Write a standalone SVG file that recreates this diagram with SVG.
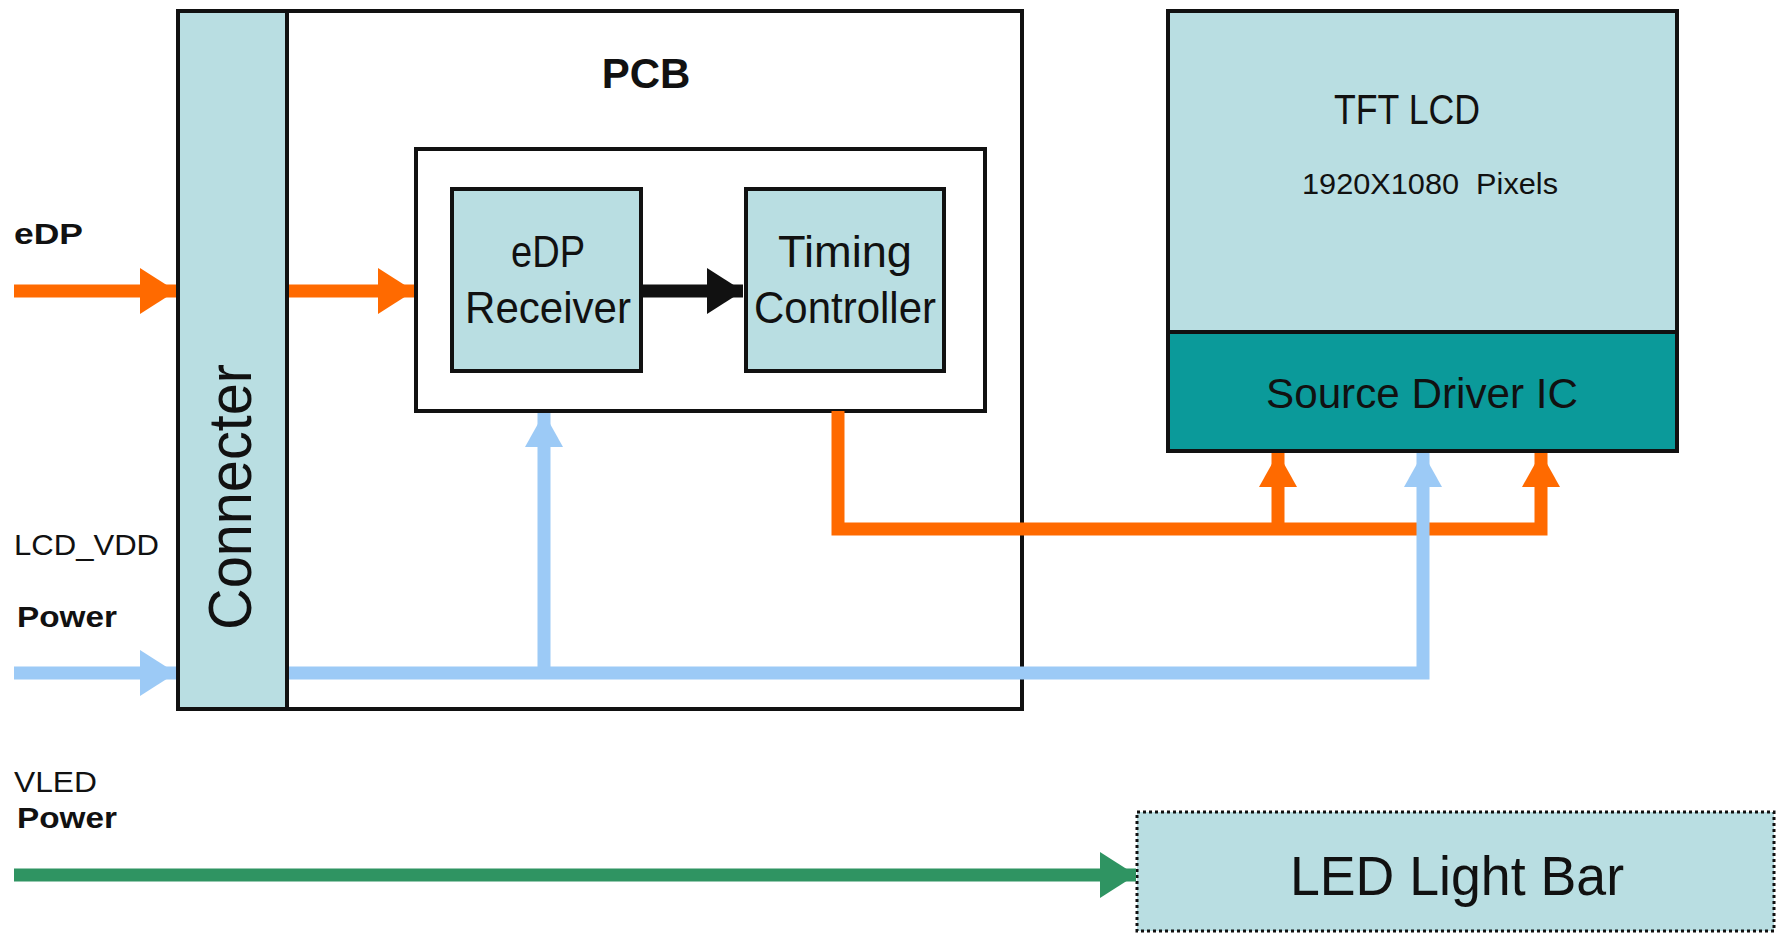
<svg xmlns="http://www.w3.org/2000/svg" width="1777" height="937" viewBox="0 0 1777 937">
<style>
text{font-family:"Liberation Sans",Arial,sans-serif;fill:#111}
.box{fill:#b9dee2;stroke:#111;stroke-width:4}
.frame{fill:#fff;stroke:#111;stroke-width:4}
.b{font-weight:bold}
.or{stroke:#ff6a00;stroke-width:13;fill:none}
.bl{stroke:#9ccaf6;stroke-width:13;fill:none}
.gr{stroke:#2f9462;stroke-width:13;fill:none}
.bk{stroke:#111;stroke-width:13;fill:none}
</style>
<defs>
<marker id="ho" markerUnits="userSpaceOnUse" markerWidth="40" markerHeight="50" refX="36" refY="23" orient="auto"><path d="M0,0 L36,23 L0,46 Z" fill="#ff6a00"/></marker>
<marker id="hb" markerUnits="userSpaceOnUse" markerWidth="40" markerHeight="50" refX="36" refY="23" orient="auto"><path d="M0,0 L36,23 L0,46 Z" fill="#9ccaf6"/></marker>
<marker id="hg" markerUnits="userSpaceOnUse" markerWidth="40" markerHeight="50" refX="36" refY="23" orient="auto"><path d="M0,0 L36,23 L0,46 Z" fill="#2f9462"/></marker>
<marker id="hk" markerUnits="userSpaceOnUse" markerWidth="40" markerHeight="50" refX="36" refY="23" orient="auto"><path d="M0,0 L36,23 L0,46 Z" fill="#111"/></marker>
<marker id="hos" markerUnits="userSpaceOnUse" markerWidth="40" markerHeight="40" refX="34" refY="19" orient="auto"><path d="M0,0 L34,19 L0,38 Z" fill="#ff6a00"/></marker>
<marker id="hbs" markerUnits="userSpaceOnUse" markerWidth="40" markerHeight="40" refX="34" refY="19" orient="auto"><path d="M0,0 L34,19 L0,38 Z" fill="#9ccaf6"/></marker>
</defs>
<rect width="1777" height="937" fill="#fff"/>

<g id="pcb">
<rect class="frame" x="178" y="11" width="844" height="698" stroke-width="3"/>
<text class="b" x="646" y="88" font-size="42" text-anchor="middle">PCB</text>
</g>
<g id="inner">
<rect class="frame" x="416" y="149" width="569" height="262"/>
</g>
<g id="connecter">
<rect class="box" x="178" y="11" width="109" height="698"/>
<text transform="translate(251,497) rotate(-90)" font-size="62" text-anchor="middle" textLength="266" lengthAdjust="spacingAndGlyphs">Connecter</text>
</g>
<g id="edp-receiver">
<rect class="box" x="452" y="189" width="189" height="182"/>
<text x="548" y="267" font-size="44" text-anchor="middle" textLength="74" lengthAdjust="spacingAndGlyphs">eDP</text>
<text x="548" y="323" font-size="44" text-anchor="middle" textLength="166" lengthAdjust="spacingAndGlyphs">Receiver</text>
</g>
<g id="timing-controller">
<rect class="box" x="746" y="189" width="198" height="182"/>
<text x="845" y="267" font-size="44" text-anchor="middle" textLength="134" lengthAdjust="spacingAndGlyphs">Timing</text>
<text x="845" y="323" font-size="44" text-anchor="middle" textLength="182" lengthAdjust="spacingAndGlyphs">Controller</text>
</g>
<g id="tft-lcd">
<rect class="box" x="1168" y="11" width="509" height="321"/>
<text x="1407" y="124" font-size="42" text-anchor="middle" textLength="146" lengthAdjust="spacingAndGlyphs">TFT LCD</text>
<text x="1430" y="194" font-size="29" text-anchor="middle" textLength="256" lengthAdjust="spacingAndGlyphs" xml:space="preserve">1920X1080  Pixels</text>
</g>
<g id="source-driver">
<rect x="1168" y="332" width="509" height="119" fill="#0b9a9a" stroke="#111" stroke-width="4"/>
<text x="1422" y="408" font-size="42" text-anchor="middle" textLength="312" lengthAdjust="spacingAndGlyphs">Source Driver IC</text>
</g>
<g id="led-light-bar">
<rect x="1137" y="812" width="637" height="119" fill="#b9dee2" stroke="#111" stroke-width="3" stroke-dasharray="3,3"/>
<text x="1457" y="895" font-size="56" text-anchor="middle" textLength="334" lengthAdjust="spacingAndGlyphs">LED Light Bar</text>
</g>

<g id="labels">
<text class="b" x="14" y="244" font-size="30" textLength="69" lengthAdjust="spacingAndGlyphs">eDP</text>
<text x="14" y="555" font-size="30" textLength="145" lengthAdjust="spacingAndGlyphs">LCD_VDD</text>
<text class="b" x="17" y="627" font-size="30" textLength="100" lengthAdjust="spacingAndGlyphs">Power</text>
<text x="14" y="792" font-size="30" textLength="83" lengthAdjust="spacingAndGlyphs">VLED</text>
<text class="b" x="17" y="828" font-size="30" textLength="100" lengthAdjust="spacingAndGlyphs">Power</text>
</g>

<g id="connectors">
<line class="or" x1="14" y1="291" x2="176" y2="291" marker-end="url(#ho)"/>
<line class="or" x1="289" y1="291" x2="414" y2="291" marker-end="url(#ho)"/>
<line class="bk" x1="641" y1="291" x2="743" y2="291" marker-end="url(#hk)"/>
<line class="bl" x1="14" y1="673" x2="176" y2="673" marker-end="url(#hb)"/>
<line class="gr" x1="14" y1="875" x2="1136" y2="875" marker-end="url(#hg)"/>
<polyline class="or" points="838,411 838,529 1541,529 1541,453" marker-end="url(#hos)"/>
<line class="or" x1="1278" y1="529" x2="1278" y2="453" marker-end="url(#hos)"/>
<polyline class="bl" points="289,673 1423,673 1423,453" marker-end="url(#hbs)"/>
<line class="bl" x1="544" y1="673" x2="544" y2="413" marker-end="url(#hbs)"/>
</g>
</svg>
